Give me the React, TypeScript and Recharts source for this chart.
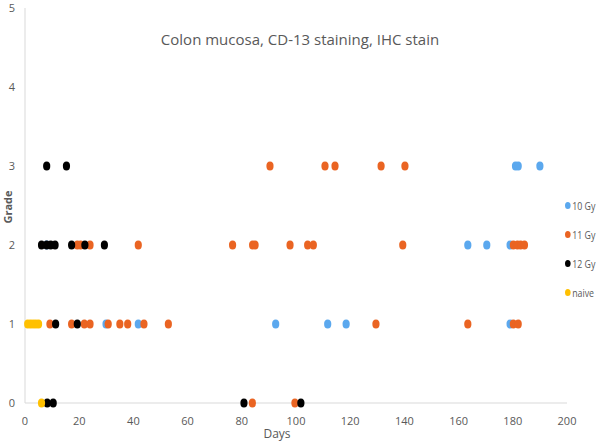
import React from 'react';
import { ScatterChart, Scatter, XAxis, YAxis } from 'recharts';

const dayTicks = [0, 20, 40, 60, 80, 100, 120, 140, 160, 180, 200];
const gradeTicks = [0, 1, 2, 3, 4, 5];

const tenGy = [
    { day: 29.9, grade: 1 }, { day: 41.8, grade: 1 }, { day: 92.5, grade: 1 },
    { day: 111.7, grade: 1 }, { day: 118.5, grade: 1 }, { day: 179, grade: 1 },
    { day: 8, grade: 2 }, { day: 163.4, grade: 2 }, { day: 170.4, grade: 2 }, { day: 179, grade: 2 },
    { day: 181, grade: 3 }, { day: 182, grade: 3 }, { day: 190, grade: 3 },
];

const elevenGy = [
    { day: 83.9, grade: 0 }, { day: 99.6, grade: 0 },
    { day: 9.2, grade: 1 }, { day: 17.2, grade: 1 }, { day: 21.9, grade: 1 }, { day: 24, grade: 1 },
    { day: 30.7, grade: 1 }, { day: 35, grade: 1 }, { day: 37.9, grade: 1 }, { day: 43.9, grade: 1 },
    { day: 52.9, grade: 1 }, { day: 129.5, grade: 1 }, { day: 163.4, grade: 1 }, { day: 180.2, grade: 1 },
    { day: 182, grade: 1 },
    { day: 19.3, grade: 2 }, { day: 20.5, grade: 2 }, { day: 24, grade: 2 }, { day: 41.8, grade: 2 },
    { day: 76.6, grade: 2 }, { day: 84, grade: 2 }, { day: 84.9, grade: 2 }, { day: 97.8, grade: 2 },
    { day: 104.3, grade: 2 }, { day: 106.4, grade: 2 }, { day: 139.4, grade: 2 }, { day: 180.2, grade: 2 },
    { day: 181.7, grade: 2 }, { day: 182.9, grade: 2 }, { day: 184.3, grade: 2 },
    { day: 90.4, grade: 3 }, { day: 110.7, grade: 3 }, { day: 114.4, grade: 3 },
    { day: 131.4, grade: 3 }, { day: 140.2, grade: 3 },
];

const twelveGy = [
    { day: 8.2, grade: 0 }, { day: 10.4, grade: 0 }, { day: 80.8, grade: 0 }, { day: 101.8, grade: 0 },
    { day: 11.3, grade: 1 }, { day: 19.3, grade: 1 },
    { day: 6.1, grade: 2 }, { day: 8, grade: 2 }, { day: 9.5, grade: 2 }, { day: 11.1, grade: 2 },
    { day: 17.2, grade: 2 }, { day: 22.1, grade: 2 }, { day: 29.3, grade: 2 },
    { day: 8, grade: 3 }, { day: 15.3, grade: 3 },
];

const naive = [
    { day: 6.1, grade: 0 },
    { day: 1, grade: 1 }, { day: 2, grade: 1 }, { day: 3, grade: 1 }, { day: 4, grade: 1 }, { day: 5, grade: 1 },
];

const series = [
    { name: '10 Gy', data: tenGy, color: '#5BA8EE' },
    { name: '11 Gy', data: elevenGy, color: '#EA6422' },
    { name: '12 Gy', data: twelveGy, color: '#000000' },
    { name: 'naive', data: naive, color: '#FFC000' },
];

const dot = (color: string) => (props: any) => (
    <ellipse cx={props.cx} cy={props.cy} rx={3.6} ry={4.5} fill={color} />
);

const App: React.FC = () => {
    return (
        <div style={{ position: 'absolute', left: 0, top: 0, width: 600, height: 447, background: '#fff', fontFamily: 'Open Sans, sans-serif' }}>
            <div style={{ position: 'absolute', left: 0, width: 600, top: 29, textAlign: 'center', fontSize: 15, color: '#595959' }}>
                Colon mucosa, CD-13 staining, IHC stain
            </div>
            <ScatterChart width={600} height={447} margin={{ top: 8, right: 33, bottom: 0, left: 0 }}>
                <XAxis
                    type="number"
                    dataKey="day"
                    domain={[0, 200]}
                    ticks={dayTicks}
                    interval={0}
                    height={44}
                    stroke="#D9D9D9"
                    tickLine={false}
                    tickMargin={8}
                    tick={{ fill: '#595959', fontSize: 11 }}
                    label={{ value: 'Days', position: 'insideBottom', offset: 9, dx: -19, fill: '#595959', fontSize: 12 }}
                />
                <YAxis
                    type="number"
                    dataKey="grade"
                    domain={[0, 5]}
                    ticks={gradeTicks}
                    interval={0}
                    width={25}
                    stroke="#D9D9D9"
                    tickLine={false}
                    tickMargin={4}
                    tick={{ fill: '#595959', fontSize: 11 }}
                    label={{ value: 'Grade', angle: -90, position: 'insideLeft', offset: 8, dy: 18, fill: '#595959', fontSize: 11, fontWeight: 'bold' }}
                />
                {series.map((s) => (
                    <Scatter key={s.name} name={s.name} data={s.data} fill={s.color} shape={dot(s.color)} isAnimationActive={false} />
                ))}
            </ScatterChart>
            {series.map((s, i) => (
                <div key={s.name} style={{ position: 'absolute', left: 565, top: 198 + i * 29, fontSize: 11, color: '#595959', display: 'flex', alignItems: 'center', whiteSpace: 'nowrap', transform: 'scaleX(0.8)', transformOrigin: 'left center' }}>
                    <span style={{ display: 'inline-block', width: 7, height: 7, borderRadius: '50%', background: s.color, marginRight: 2 }} />
                    {s.name}
                </div>
            ))}
        </div>
    );
};

export default App;
